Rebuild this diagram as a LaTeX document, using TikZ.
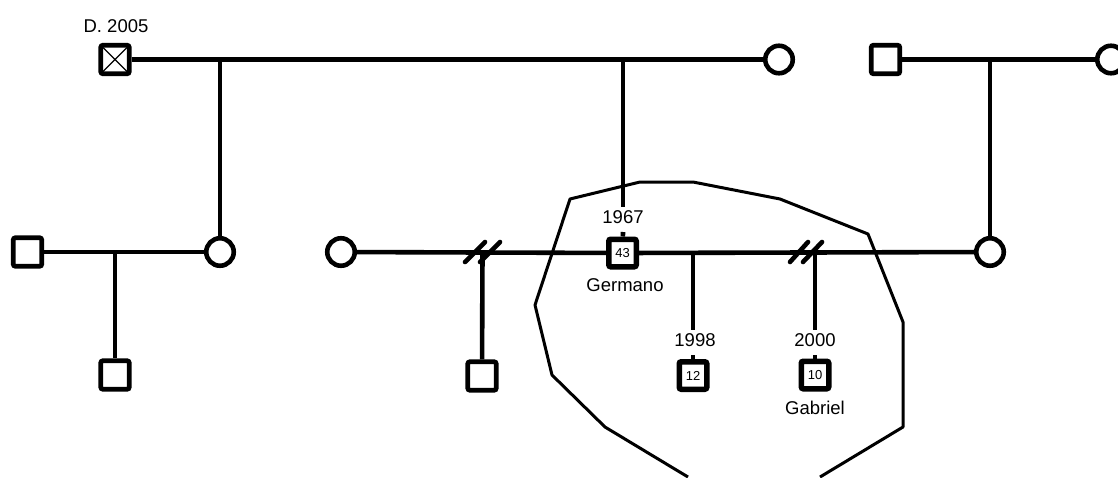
\documentclass[tikz,border=0pt]{standalone}
\usepackage{fontspec}
\setmainfont{Liberation Sans}
\begin{document}
\begin{tikzpicture}[x=1pt,y=-1pt,
  male/.style={draw,line width=4.6pt,minimum size=28.5pt,rounded corners=2pt,inner sep=0pt,fill=white},
  female/.style={circle,draw,line width=4.6pt,minimum size=27.5pt,inner sep=0pt,fill=white},
  idx/.style={draw,line width=5.5pt,minimum size=27.5pt,rounded corners=2pt,inner sep=0pt,fill=white,font=\fontsize{13}{14}\selectfont},
  lbl/.style={inner sep=0pt,font=\fontsize{18.5}{21}\selectfont},
  rel/.style={line width=4.6pt},
  brk/.style={line width=4.6pt,line cap=round},
  hull/.style={line width=3pt,line join=round}]
\useasboundingbox (0,0) rectangle (1118,477);
\clip (0,0) rectangle (1118,477);
% hull
\draw[hull] (688,477) -- (605,427) -- (552,375) -- (535,305) -- (570,199) -- (640,182) -- (693,182) -- (780,199) -- (868,234) -- (903,322) -- (903,427) -- (820,477);
% nodes
\node[male] (d) at (115,59.5) {};
\draw[line width=1.4pt] (d.center) +(-12,-12) -- +(12,12) +(-12,12) -- +(12,-12);
\node[lbl] (dl) at (116,26) {D. 2005};
\node[female] (c1) at (779,59.5) {};
\node[male] (s2) at (885.5,59.5) {};
\node[female] (c2) at (1111,59.5) {};
\node[female] (c3) at (990,252) {};
\node[female] (w1) at (220,252) {};
\node[male] (s1) at (27.5,252) {};
\node[male] (s3) at (115,375) {};
\node[female] (w2) at (341,252) {};
\node[male] (s4) at (482,376) {};
\node[idx] (g) at (622.5,253) {43};
\node[lbl] (y67) at (623,217) {1967};
\node[lbl] (gn) at (625,285) {Germano};
\node[idx] (k1) at (693,375.5) {12};
\node[lbl] (y98) at (695,340) {1998};
\node[idx] (k2) at (815,375) {10};
\node[lbl] (y00) at (815,340) {2000};
\node[lbl] (gb) at (815,408) {Gabriel};
% coordinates
\coordinate (m1) at (220,59.5);
\coordinate (m2) at (623,59.5);
\coordinate (m2e) at (623,207);
\coordinate (t1) at (623,232);
\coordinate (m3) at (990,59.5);
\coordinate (m4) at (115,252);
\coordinate (m5) at (482.5,252);
\coordinate (m6) at (693,252);
\coordinate (m6e) at (693,330);
\coordinate (t2) at (693,355);
\coordinate (m7) at (815,252);
\coordinate (m7e) at (815,330);
\coordinate (t3) at (815,355);
% relationship lines
\draw[rel] (d) -- (c1);
\draw[rel] (s2) -- (c2);
\draw[rel] (s1) -- (w1);
\draw[rel] (w2) -- (g);
\draw[rel] (g) -- (c3);
% descent lines
\draw[rel] (m1) -- (w1);
\draw[rel] (m2) -- (m2e);
\draw[rel] (t1) -- (g);
\draw[rel] (m3) -- (c3);
\draw[rel] (m4) -- (s3);
\draw[rel] (m5) -- (s4);
\draw[rel] (m6) -- (m6e);
\draw[rel] (t2) -- (k1);
\draw[rel] (m7) -- (m7e);
\draw[rel] (t3) -- (k2);
% divorce marks
\coordinate (b1a) at (465,262); \coordinate (b1b) at (485,242);
\coordinate (b2a) at (480,262); \coordinate (b2b) at (500,242);
\coordinate (b3a) at (790,262); \coordinate (b3b) at (808,242);
\coordinate (b4a) at (803,262); \coordinate (b4b) at (822,242);
\draw[brk] (b1a) -- (b1b);
\draw[brk] (b2a) -- (b2b);
\draw[brk] (b3a) -- (b3b);
\draw[brk] (b4a) -- (b4b);
\end{tikzpicture}
\end{document}
